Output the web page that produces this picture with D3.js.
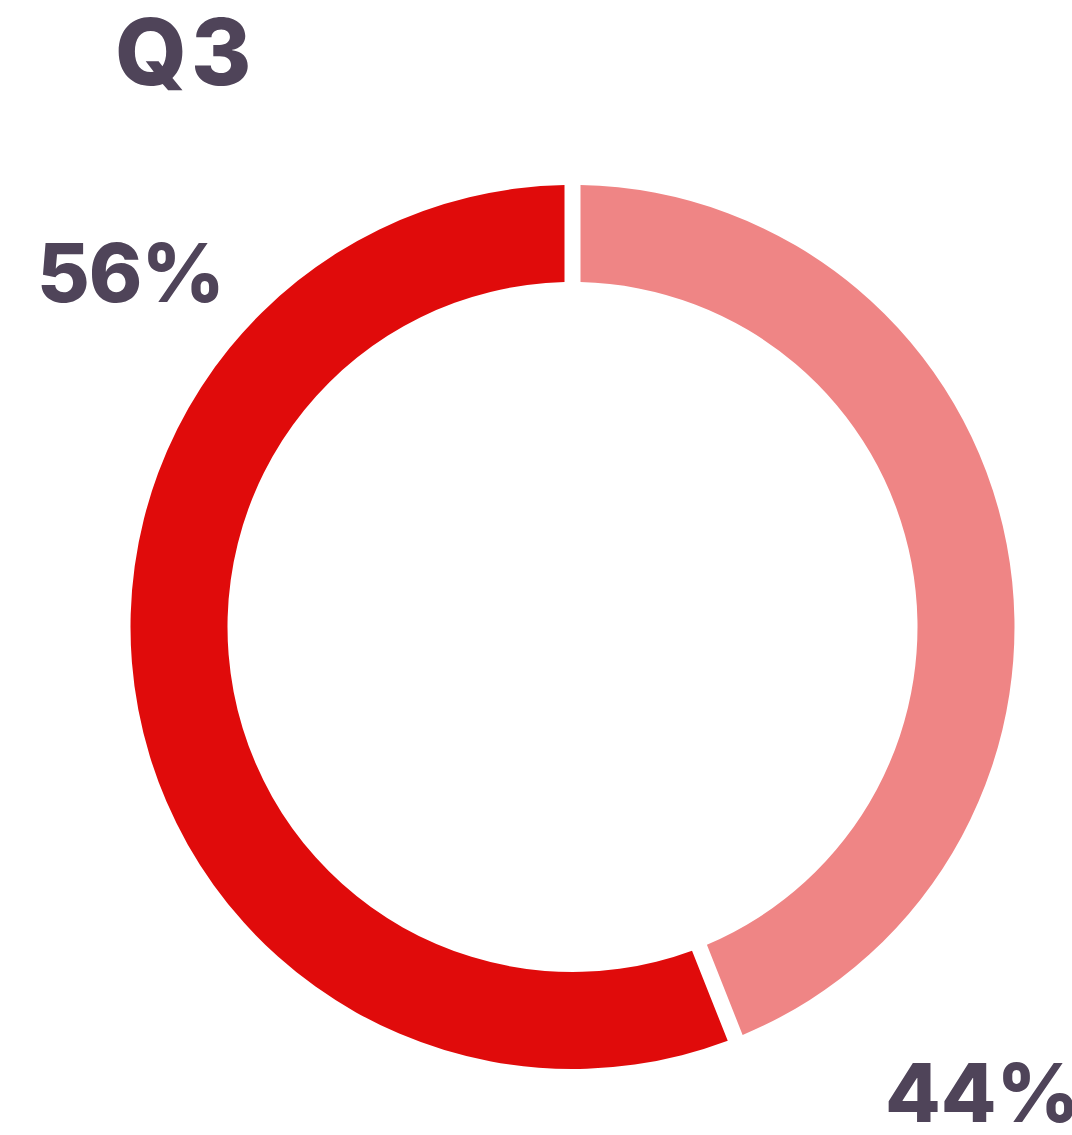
<!DOCTYPE html>
<html>
<head>
<meta charset="utf-8">
<script src="https://cdn.jsdelivr.net/npm/d3@7"></script>
<style>
  html, body { margin: 0; padding: 0; background: #fff; overflow: hidden; }
  svg { display: block; }
  .lbl { font-family: Inter, "Open Sans", sans-serif; font-weight: 800; fill: #4f4459; }
</style>
</head>
<body>
<div id="chart"></div>
<script>
// dane wykresu
const title = "Q3";
const categories = ["B", "A"];
const values = [44, 56];
const colors = ["#ef8585", "#e00b0b"];
const labels = ["44%", "56%"];

const width = 1072, height = 1135;
const cx = 572.5, cy = 627;
const outerR = 442, innerR = 345;

const svg = d3.select("#chart").append("svg")
  .attr("width", width)
  .attr("height", height);

// pie bez sortowania, start od gory zgodnie z ruchem wskazowek
const pie = d3.pie().sort(null).value(d => d.value);
const arcs = pie(categories.map((c, i) => ({ name: c, value: values[i], color: colors[i] })));

const padR = Math.sqrt(innerR * innerR + outerR * outerR);
const arc = d3.arc()
  .innerRadius(innerR)
  .outerRadius(outerR)
  .padRadius(padR)
  .padAngle(16 / padR);

svg.append("g")
  .attr("transform", `translate(${cx},${cy})`)
  .selectAll("path")
  .data(arcs)
  .enter()
  .append("path")
  .attr("d", arc)
  .attr("fill", d => d.data.color);

// tytul
svg.append("text")
  .attr("class", "lbl")
  .attr("x", 115)
  .attr("y", 85)
  .style("font-size", "92px")
  .style("letter-spacing", "4px")
  .text(title);

// etykiety procentowe
svg.append("text")
  .attr("class", "lbl")
  .attr("x", 37)
  .attr("y", 302)
  .style("font-size", "81px")
  .style("letter-spacing", "-1px")
  .text(labels[1]);

svg.append("text")
  .attr("class", "lbl")
  .attr("x", 885)
  .attr("y", 1122)
  .style("font-size", "81px")
  .style("letter-spacing", "0px")
  .text(labels[0]);
</script>
</body>
</html>
